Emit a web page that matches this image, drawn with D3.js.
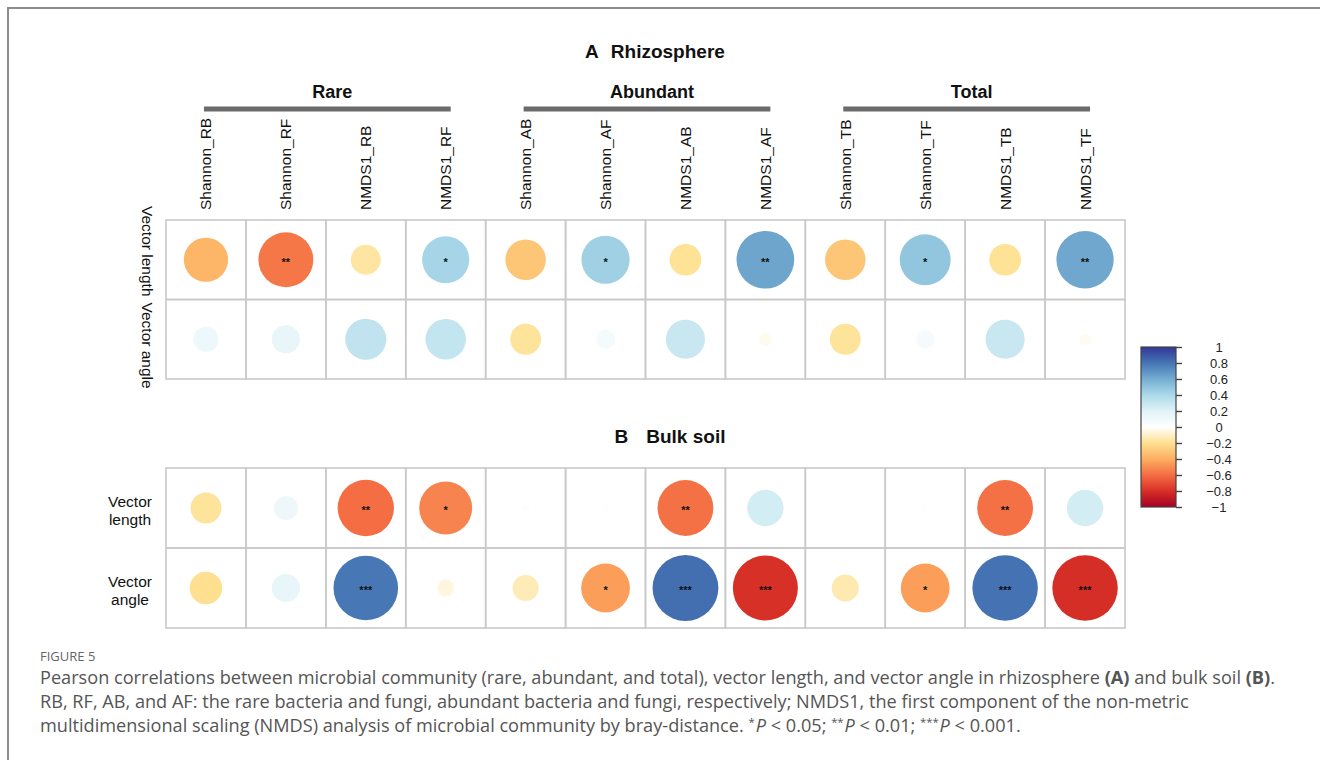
<!DOCTYPE html>
<html>
<head>
<meta charset="utf-8">
<script src="https://cdn.jsdelivr.net/npm/d3@7"></script>
<style>
  body { margin: 0; background: #fff; }
  svg { display: block; font-family: "Liberation Sans", Arial, sans-serif; }
</style>
</head>
<body>
<svg id="fig"></svg>
<script>
// ---- data ----
const columns = ["Shannon_RB", "Shannon_RF", "NMDS1_RB", "NMDS1_RF",
                 "Shannon_AB", "Shannon_AF", "NMDS1_AB", "NMDS1_AF",
                 "Shannon_TB", "Shannon_TF", "NMDS1_TB", "NMDS1_TF"];
const groups = ["Rare", "Abundant", "Total"];
const groupFirst = ["Shannon_RB", "Shannon_AB", "Shannon_TB"];
const groupLast = ["NMDS1_RF", "NMDS1_AF", "NMDS1_TF"];
const rows = ["Vector length", "Vector angle"];

const rhizoLength = [-0.37, -0.57, -0.17, 0.42, -0.31, 0.44, -0.19, 0.63, -0.31, 0.49, -0.19, 0.62];
const rhizoAngle  = [0.12, 0.15, 0.32, 0.31, -0.18, 0.07, 0.29, -0.03, -0.18, 0.065, 0.29, -0.025];
const bulkLength  = [-0.18, 0.11, -0.6, -0.53, -0.01, 0.01, -0.59, 0.25, 0.008, -0.008, -0.59, 0.25];
const bulkAngle   = [-0.2, 0.15, 0.79, -0.055, -0.13, -0.45, 0.82, -0.8, -0.14, -0.45, 0.81, -0.81];

const rhizoLengthSig = ["", "**", "", "*", "", "*", "", "**", "", "*", "", "**"];
const rhizoAngleSig  = ["", "", "", "", "", "", "", "", "", "", "", ""];
const bulkLengthSig  = ["", "", "**", "*", "", "", "**", "", "", "", "**", ""];
const bulkAngleSig   = ["", "", "***", "", "", "*", "***", "***", "", "*", "***", "***"];

const legendTicks = [1, 0.8, 0.6, 0.4, 0.2, 0, -0.2, -0.4, -0.6, -0.8, -1];
const paletteStops = [-1, -0.8, -0.6, -0.4, -0.2, 0, 0.2, 0.4, 0.6, 0.8, 1];
const paletteColors = ["#A50026", "#D73027", "#F46D43", "#FDAE61", "#FEE090", "#FFFFFF",
                       "#E0F3F8", "#ABD9E9", "#74ADD1", "#4575B4", "#313695"];

// ---- setup ----
let w = 1320, h = 760;
let svg = d3.select("#fig").attr("width", w).attr("height", h);

// figure frame (open on the right and bottom)
svg.append("path")
    .attr("d", "M8,770 L8,8 L1330,8")
    .attr("fill", "none")
    .attr("stroke", "#8c8c8c")
    .attr("stroke-width", 2);

let x = d3.scaleBand().domain(columns).range([166, 1125]);
let yA = d3.scaleBand().domain(rows).range([220, 379]);
let yB = d3.scaleBand().domain(rows).range([468, 628]);
let color = d3.scaleLinear().domain(paletteStops).range(paletteColors).clamp(true);
let rad = d3.scaleSqrt().domain([0, 1]).range([0, x.bandwidth() * 0.455]);
let cx = c => x(c) + x.bandwidth() / 2;

function drawPanel(y, values, sigs) {
    let cells = rows.flatMap((r, i) => columns.map((c, j) => ({
        row: r, col: c, value: values[i][j], sig: sigs[i][j]
    })));
    let g = svg.append("g");

    g.selectAll("rect")
        .data(cells)
        .enter()
        .append("rect")
        .attr("x", d => x(d.col))
        .attr("y", d => y(d.row))
        .attr("width", x.bandwidth())
        .attr("height", y.bandwidth())
        .attr("fill", "none")
        .attr("stroke", "#c9c9c9")
        .attr("stroke-width", 1.6);

    g.selectAll("circle")
        .data(cells)
        .enter()
        .append("circle")
        .attr("cx", d => cx(d.col))
        .attr("cy", d => y(d.row) + y.bandwidth() / 2)
        .attr("r", d => rad(Math.abs(d.value)))
        .attr("fill", d => color(d.value));

    g.selectAll("text.sig")
        .data(cells.filter(d => d.sig))
        .enter()
        .append("text")
        .attr("class", "sig")
        .attr("x", d => cx(d.col))
        .attr("y", d => y(d.row) + y.bandwidth() / 2 + 6)
        .attr("text-anchor", "middle")
        .attr("font-size", 11)
        .attr("font-weight", "bold")
        .attr("fill", "#111")
        .text(d => d.sig);
}

// ---- panel A: rhizosphere ----
let titleA = svg.append("text")
    .attr("x", 655).attr("y", 58)
    .attr("text-anchor", "middle")
    .attr("font-size", 19).attr("font-weight", "bold").attr("fill", "#111");
titleA.append("tspan").text("A");
titleA.append("tspan").attr("dx", 12).text("Rhizosphere");

groups.forEach((gname, i) => {
    let x0 = cx(groupFirst[i]) - 2, x1 = cx(groupLast[i]) + 5;
    svg.append("line")
        .attr("x1", x0).attr("x2", x1)
        .attr("y1", 109).attr("y2", 109)
        .attr("stroke", "#6b6b6b").attr("stroke-width", 5);
    svg.append("text")
        .attr("x", (x0 + x1) / 2 + 5).attr("y", 98)
        .attr("text-anchor", "middle")
        .attr("font-size", 18).attr("font-weight", "bold").attr("fill", "#111")
        .text(gname);
});

// column labels run upward from just above the grid
svg.selectAll("text.collab")
    .data(columns)
    .enter()
    .append("text")
    .attr("class", "collab")
    .attr("transform", d => `translate(${cx(d) + 5.5},210) rotate(-90)`)
    .attr("text-anchor", "start")
    .attr("font-size", 15.5)
    .attr("fill", "#111")
    .text(d => d);

// row labels of A sit either side of the row boundary
svg.append("text")
    .attr("transform", `translate(142,${yA(rows[1]) - 3}) rotate(90)`)
    .attr("text-anchor", "end")
    .attr("font-size", 15.5).attr("fill", "#111")
    .text(rows[0]);
svg.append("text")
    .attr("transform", `translate(142,${yA(rows[1]) + 3}) rotate(90)`)
    .attr("text-anchor", "start")
    .attr("font-size", 15.5).attr("fill", "#111")
    .text(rows[1]);

drawPanel(yA, [rhizoLength, rhizoAngle], [rhizoLengthSig, rhizoAngleSig]);

// ---- panel B: bulk soil ----
let titleB = svg.append("text")
    .attr("x", 670).attr("y", 443)
    .attr("text-anchor", "middle")
    .attr("font-size", 19).attr("font-weight", "bold").attr("fill", "#111");
titleB.append("tspan").text("B");
titleB.append("tspan").attr("dx", 18).text("Bulk soil");

rows.forEach(r => {
    let parts = r.split(" ");
    let t = svg.append("text")
        .attr("text-anchor", "middle")
        .attr("font-size", 15.5).attr("fill", "#111");
    parts.forEach((p, k) => {
        t.append("tspan")
            .attr("x", 130)
            .attr("y", yB(r) + yB.bandwidth() / 2 - 1.5 + k * 18)
            .text(p);
    });
});

drawPanel(yB, [bulkLength, bulkAngle], [bulkLengthSig, bulkAngleSig]);

// ---- colour legend ----
let defs = svg.append("defs");
let grad = defs.append("linearGradient")
    .attr("id", "cbar")
    .attr("x1", 0).attr("y1", 1).attr("x2", 0).attr("y2", 0);
grad.selectAll("stop")
    .data(paletteStops)
    .enter()
    .append("stop")
    .attr("offset", d => (d + 1) / 2)
    .attr("stop-color", d => color(d));

let ly = d3.scaleLinear().domain([-1, 1]).range([507, 347]);
svg.append("rect")
    .attr("x", 1141).attr("y", ly(1))
    .attr("width", 35).attr("height", ly(-1) - ly(1))
    .attr("fill", "url(#cbar)")
    .attr("stroke", "#444").attr("stroke-width", 1.2);

let lax = svg.append("g")
    .attr("transform", "translate(1176,0)")
    .call(d3.axisRight(ly).tickValues(legendTicks).tickSize(6).tickFormat(d3.format("~g")));
lax.select(".domain").remove();
lax.selectAll(".tick line").attr("stroke", "#444").attr("stroke-width", 1.4);
lax.selectAll(".tick text")
    .attr("x", 43)
    .attr("text-anchor", "middle")
    .attr("font-size", 13)
    .attr("font-family", "'Liberation Sans', Arial, sans-serif")
    .attr("fill", "#222");

// ---- caption ----
const capFont = "'Open Sans', 'Noto Sans', sans-serif";
svg.append("text")
    .attr("x", 40).attr("y", 661)
    .attr("font-family", capFont).attr("font-size", 13)
    .attr("fill", "#666")
    .text("FIGURE 5");

let capLines = [
    [["Pearson correlations between microbial community (rare, abundant, and total), vector length, and vector angle in rhizosphere ", ""],
     ["(A)", "b"], [" and bulk soil ", ""], ["(B)", "b"], [".", ""]],
    [["RB, RF, AB, and AF: the rare bacteria and fungi, abundant bacteria and fungi, respectively; NMDS1, the first component of the non-metric", ""]],
    [["multidimensional scaling (NMDS) analysis of microbial community by bray-distance. ", ""],
     ["*", "s"], ["P", "i"], [" < 0.05; ", ""], ["**", "s"], ["P", "i"], [" < 0.01; ", ""],
     ["***", "s"], ["P", "i"], [" < 0.001.", ""]]
];
let capBase = [684, 708, 732];
let capText = capLines.map((line, i) => {
    let t = svg.append("text")
        .attr("x", 40).attr("y", capBase[i])
        .attr("font-family", capFont).attr("font-size", 16)
        .attr("fill", "#555");
    line.forEach(([s, style]) => {
        let sp = t.append("tspan").text(s);
        if (style === "b") sp.attr("font-weight", "bold");
        if (style === "i") sp.attr("font-style", "italic");
        if (style === "s") sp.attr("font-size", "0.62em").attr("dy", -6);
    });
    return t;
});
// superscript offsets are relative, put the baseline back after each one
capText[2].selectAll("tspan").each(function (d, k, nodes) {
    let prev = k > 0 ? d3.select(nodes[k - 1]) : null;
    if (prev && prev.text().startsWith("*")) d3.select(this).attr("dy", 6).attr("dx", 1);
});
// fit the caption width to the first line's span in the figure
let w1 = capText[0].node().getComputedTextLength();
let capSize = 16 * 1236 / w1;
capText.forEach(t => t.attr("font-size", capSize));
</script>
</body>
</html>
